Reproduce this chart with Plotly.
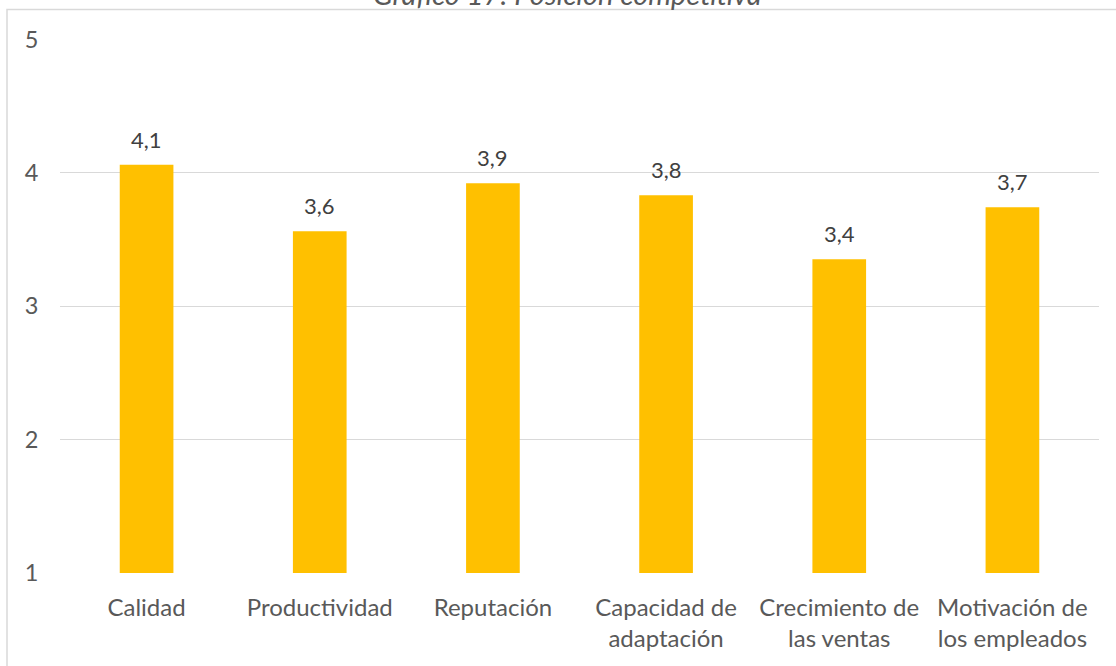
import plotly.graph_objects as go

categories = ["Calidad", "Productividad", "Reputación", "Capacidad de<br>adaptación",
              "Crecimiento de<br>las ventas", "Motivación de<br>los empleados"]
values = [4.06, 3.56, 3.92, 3.83, 3.35, 3.74]
y_ticks = [1, 2, 3, 4, 5]
title_text = "Gráfico 17: Posición competitiva"

FONT = "Lato, 'Open Sans', sans-serif"
W, H = 1116, 666
ml, mr, mt, mb = 60, 17, 39, 93
pw, ph = W - ml - mr, H - mt - mb

def px_to_paper_x(px):
    return (px - ml) / pw

def px_to_paper_y(py):
    return (H - mb - py) / ph

fig = go.Figure()
fig.add_trace(go.Bar(
    x=categories, y=values,
    marker=dict(color="#FFC000", line=dict(width=0)),
    width=0.31,
    hoverinfo="skip",
))

annotations = []
for c, v in zip(categories, values):
    annotations.append(dict(
        x=c, y=v, xref="x", yref="y", text=f"{v:.1f}".replace(".", ","),
        showarrow=False, yanchor="bottom", yshift=10,
        font=dict(family=FONT, size=22, color="#404040"),
    ))
annotations.append(dict(
    x=px_to_paper_x(567), y=px_to_paper_y(-7), xref="paper", yref="paper",
    text=f"<i>{title_text}</i>",
    showarrow=False, yanchor="middle", xanchor="center",
    font=dict(family=FONT, size=29, color="#595959"),
))

fig.update_layout(
    width=W, height=H,
    margin=dict(l=ml, r=mr, t=mt, b=mb, pad=0),
    paper_bgcolor="white", plot_bgcolor="white",
    separators=",.",
    showlegend=False,
    annotations=annotations,
    shapes=[dict(
        type="rect", xref="paper", yref="paper",
        x0=px_to_paper_x(7), x1=px_to_paper_x(1125),
        y0=px_to_paper_y(675), y1=px_to_paper_y(9.5),
        line=dict(color="#D9D9D9", width=1.5), layer="below",
    )],
    xaxis=dict(
        showgrid=False, zeroline=False, showline=False,
        ticks="outside", ticklen=13, tickcolor="rgba(0,0,0,0)",
        tickfont=dict(family=FONT, size=24, color="#595959"),
    ),
    yaxis=dict(
        range=[0.997, 5.003], tickvals=y_ticks,
        showgrid=True, gridcolor="#D9D9D9", gridwidth=1,
        zeroline=False, showline=False,
        ticks="outside", ticklen=16, tickcolor="rgba(0,0,0,0)",
        tickfont=dict(family=FONT, size=23.5, color="#595959"),
    ),
)

fig.write_html("out.html", config={"displayModeBar": False},
               post_script="document.body.style.margin='0';document.body.style.overflow='hidden';")
